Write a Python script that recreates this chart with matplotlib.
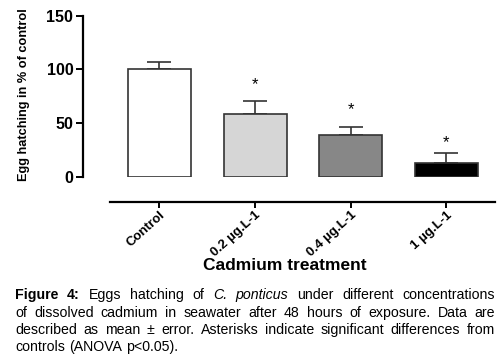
import matplotlib
matplotlib.use("Agg")
import matplotlib.pyplot as plt
import numpy as np

# données
categories = ["Control", "0.2 µg.L-1", "0.4 µg.L-1", "1 µg.L-1"]
means = [100, 59, 39, 13]
errors = [7, 12, 7.5, 9]
star_y = [None, 86, 63, 32]
colors = ["white", "#d6d6d6", "#878787", "black"]
yticks = [0, 50, 100, 150]

caption_lines = [
    [("Figure 4:", "bold"), ("Eggs hatching of", "normal"), ("C. ponticus", "italic"),
     ("under different concentrations", "normal")],
    [("of dissolved cadmium in seawater after 48 hours of exposure. Data are", "normal")],
    [("described as mean ± error. Asterisks indicate significant differences from", "normal")],
    [("controls (ANOVA p<0.05).", "normal")],
]

plt.rcParams["font.family"] = ["Liberation Sans", "DejaVu Sans"]

fig = plt.figure(figsize=(5.0, 3.56), dpi=100)
W, H = 500, 356
ax = fig.add_axes([83 / W, 1 - 177 / H, 412 / W, (177 - 15.7) / H])

x = np.arange(len(categories))
ax.bar(x, means, width=0.66, color=colors, edgecolor="#333333", linewidth=1.2, zorder=2)
ax.errorbar(x, means, yerr=[np.zeros(len(x)), errors], fmt="none", ecolor="#333333",
            elinewidth=1.2, capsize=8.5, capthick=1.2, zorder=1)
for xi, sy in zip(x, star_y):
    if sy is not None:
        ax.text(xi, sy, "*", ha="center", va="center", fontsize=12)

ax.set_xlim(-0.80, 3.51)
ax.set_ylim(0, 150)
ax.set_yticks(yticks)
ax.spines["top"].set_visible(False)
ax.spines["right"].set_visible(False)
ax.spines["left"].set_bounds(0, 150)
ax.spines["left"].set_linewidth(1.6)
ax.spines["bottom"].set_position(("outward", 18))
ax.spines["bottom"].set_bounds(-0.52, 3.51)
ax.spines["bottom"].set_linewidth(1.6)
ax.tick_params(axis="y", length=5, width=1.4, labelsize=11.5, pad=2)
ax.tick_params(axis="x", length=4, width=1.4, labelsize=9.5, pad=1)
ax.set_xticks(x)
ax.set_xticklabels(categories, rotation=42, ha="right", va="top",
                   rotation_mode="anchor", fontweight="bold")
for lab in ax.get_yticklabels():
    lab.set_fontweight("bold")
ax.set_ylabel("Egg hatching in % of control", fontsize=9.2, fontweight="bold")
ax.yaxis.set_label_coords(-0.128, 0.51)
fig.text(285 / W, 1 - 266 / H, "Cadmium treatment", ha="center", va="center",
         fontsize=12.5, fontweight="bold")

# légende justifiée, mot par mot
fig.canvas.draw()
r = fig.canvas.get_renderer()
fs = 10.2
x0, x1 = 15, 495
line_y = [295, 312.7, 330, 346.7]


def words_of(line):
    out = []
    for seg, style in line:
        for w in seg.split(" "):
            out.append((w, style))
    return out


for i, line in enumerate(caption_lines):
    ws = words_of(line)
    arts = []
    for w, style in ws:
        kw = dict(fontsize=fs, va="center", ha="left")
        if style == "bold":
            kw["fontweight"] = "bold"
        if style == "italic":
            kw["fontstyle"] = "italic"
        arts.append(fig.text(0, 1 - line_y[i] / H, w, **kw))
    widths = [a.get_window_extent(r).width for a in arts]
    last = i == len(caption_lines) - 1
    if last:
        gap = fs * 0.28 * 100 / 72
    else:
        gap = (x1 - x0 - sum(widths)) / (len(arts) - 1)
    pos = x0
    for a, wd in zip(arts, widths):
        a.set_x(pos / W)
        pos += wd + gap

fig.savefig("out.png", dpi=100)
